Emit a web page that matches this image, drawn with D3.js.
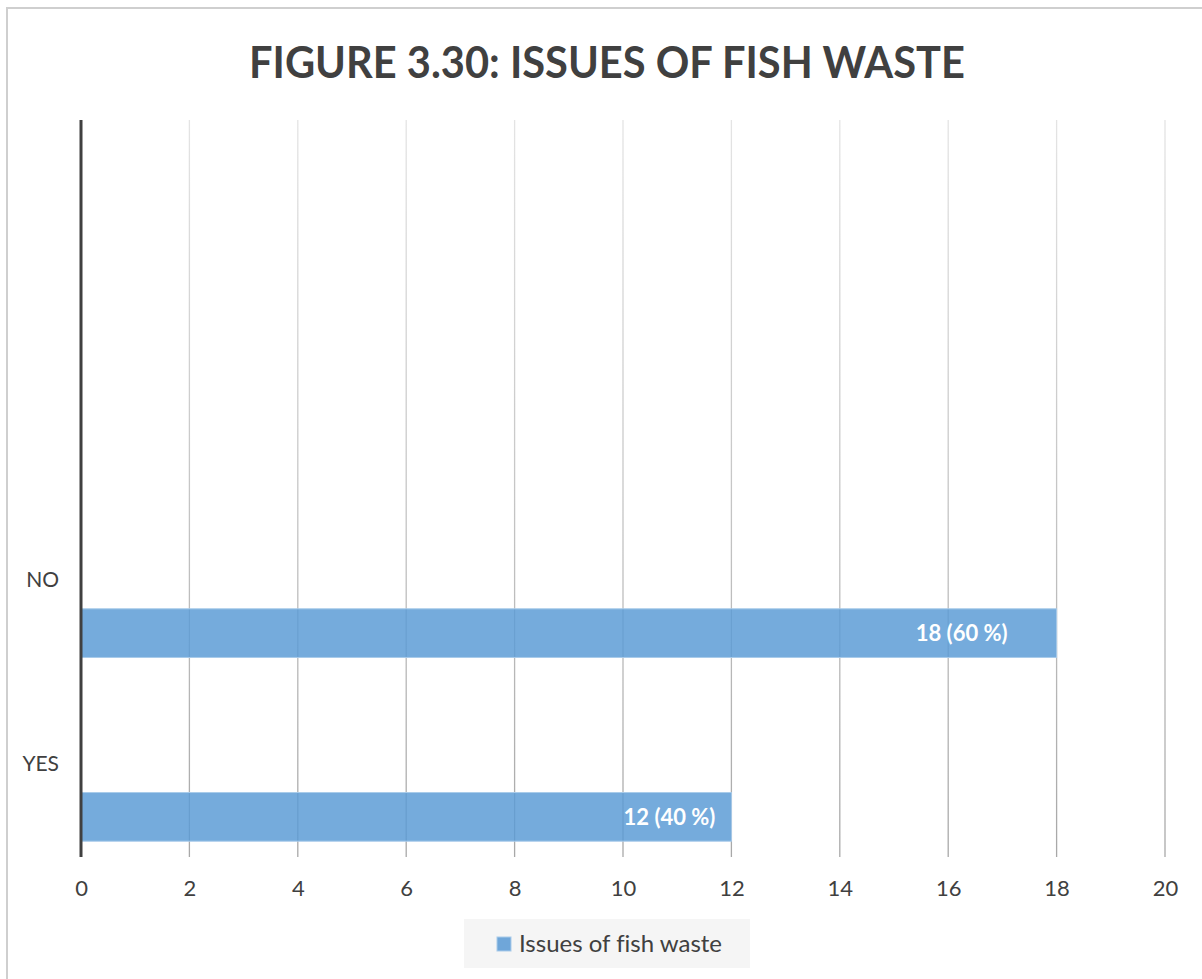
<!DOCTYPE html>
<html>
<head>
<meta charset="utf-8">
<script src="https://cdn.jsdelivr.net/npm/d3@7"></script>
<style>
  body { margin: 0; background: #fff; }
  svg { display: block; font-family: Lato, "Open Sans", sans-serif; font-variant-ligatures: none; }
</style>
</head>
<body>
<svg width="1202" height="979"></svg>
<script>
// Chart data
const categories = ["NO", "YES"];
const values = [18, 12];
const valueLabels = ["18 (60 %)", "12 (40 %)"];
const xTicks = [0, 2, 4, 6, 8, 10, 12, 14, 16, 18, 20];
const seriesName = "Issues of fish waste";
const title = "FIGURE 3.30: ISSUES OF FISH WASTE";

const svg = d3.select("svg");

// outer frame
svg.append("rect")
    .attr("x", 7).attr("y", 8)
    .attr("width", 1202).attr("height", 1000)
    .attr("fill", "#fff")
    .attr("stroke", "#cfcfcf")
    .attr("stroke-width", 2);

// title
svg.append("text")
    .attr("x", 607).attr("y", 78)
    .attr("text-anchor", "middle")
    .attr("font-size", 44)
    .attr("font-weight", "bold")
    .attr("fill", "#404040")
    .attr("textLength", 716)
    .attr("lengthAdjust", "spacingAndGlyphs")
    .text(title);

const plotTop = 120, plotBottom = 855;
const x = d3.scaleLinear().domain([0, 20]).range([81, 1165]);

// two empty slots above the real categories (as in the original sheet)
const y = d3.scaleBand()
    .domain(["", " "].concat(categories))
    .range([plotTop, plotBottom]);

// gridline gradient (light at top, darker towards the axis)
const defs = svg.append("defs");
const grad = defs.append("linearGradient")
    .attr("id", "gridGrad")
    .attr("gradientUnits", "userSpaceOnUse")
    .attr("x1", 0).attr("y1", plotTop)
    .attr("x2", 0).attr("y2", plotBottom);
grad.append("stop").attr("offset", "0%").attr("stop-color", "#e4e4e4");
grad.append("stop").attr("offset", "100%").attr("stop-color", "#a8a8a8");

const g = svg.append("g");

// vertical gridlines + tick marks
g.selectAll(".grid")
    .data(xTicks.filter(d => d > 0))
    .enter().append("line")
    .attr("class", "grid")
    .attr("x1", d => x(d)).attr("x2", d => x(d))
    .attr("y1", plotTop).attr("y2", plotBottom + 2)
    .attr("stroke", "url(#gridGrad)")
    .attr("stroke-width", 1.3);

// bars
const barOffset = 0.66, barH = 0.265;
g.selectAll(".bar")
    .data(values)
    .enter().append("rect")
    .attr("class", "bar")
    .attr("x", x(0))
    .attr("y", (d, i) => y(categories[i]) + y.bandwidth() * barOffset)
    .attr("width", d => x(d) - x(0))
    .attr("height", y.bandwidth() * barH)
    .attr("fill", "#5b9bd5")
    .attr("fill-opacity", 0.84)
    .attr("stroke", "#a9cbea")
    .attr("stroke-width", 1);

// value labels inside the bars
const labelInset = [49, 16];
g.selectAll(".vlabel")
    .data(values)
    .enter().append("text")
    .attr("class", "vlabel")
    .attr("x", (d, i) => x(d) - labelInset[i])
    .attr("y", (d, i) => y(categories[i]) + y.bandwidth() * (barOffset + barH / 2) + 8)
    .attr("text-anchor", "end")
    .attr("font-size", 22)
    .attr("font-weight", "bold")
    .attr("fill", "#fff")
    .text((d, i) => valueLabels[i]);

// category axis line
g.append("line")
    .attr("x1", x(0)).attr("x2", x(0))
    .attr("y1", plotTop).attr("y2", plotBottom + 2)
    .attr("stroke", "#404040")
    .attr("stroke-width", 3);

// category labels
g.selectAll(".clabel")
    .data(categories)
    .enter().append("text")
    .attr("class", "clabel")
    .attr("x", 59)
    .attr("y", d => y(d) + y.bandwidth() / 2 + 8)
    .attr("text-anchor", "end")
    .attr("font-size", 21)
    .attr("fill", "#404040")
    .text(d => d);

// x axis tick labels
const xAxis = d3.axisBottom(x).tickValues(xTicks).tickSize(0).tickPadding(0);
const ax = svg.append("g")
    .attr("transform", `translate(0, 880)`)
    .call(xAxis);
ax.select(".domain").remove();
ax.selectAll("text")
    .attr("dy", "0.71em")
    .attr("font-size", 22)
    .attr("font-family", "Lato, sans-serif")
    .attr("fill", "#404040");

// legend
const legend = svg.append("g");
legend.append("rect")
    .attr("x", 464).attr("y", 919)
    .attr("width", 286).attr("height", 49)
    .attr("fill", "#f5f5f5");
legend.append("rect")
    .attr("x", 497).attr("y", 937)
    .attr("width", 14).attr("height", 14)
    .attr("fill", "#6fa6d9")
    .attr("stroke", "#a9cbea");
legend.append("text")
    .attr("x", 519).attr("y", 952)
    .attr("font-size", 24)
    .attr("fill", "#404040")
    .text(seriesName);
</script>
</body>
</html>
